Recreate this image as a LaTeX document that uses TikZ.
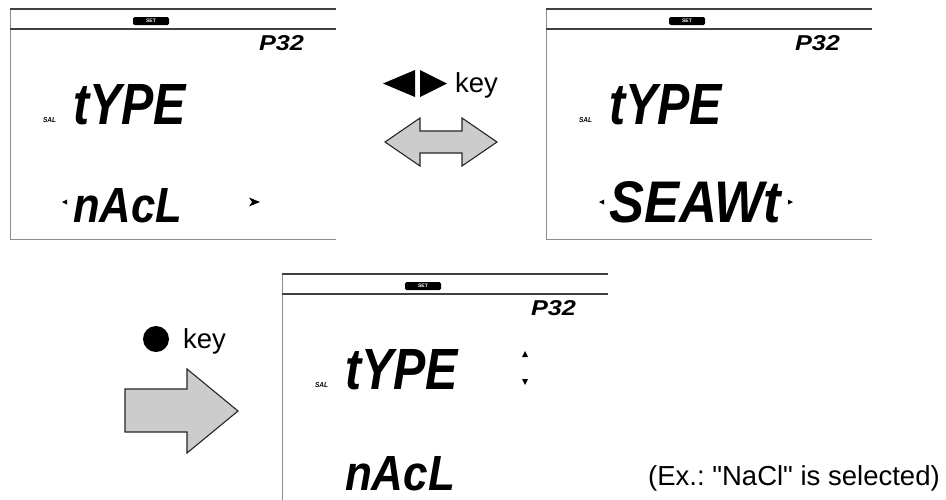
\documentclass[tikz,border=0pt]{standalone}
\usepackage{graphicx}
\usepackage{fontspec}
\setmainfont{Liberation Sans}
\newfontfamily\plainsans{Liberation Sans}
\frenchspacing
\newcommand{\lcdtxt}[3]{\resizebox{#1pt}{#2pt}{\bfseries\itshape #3}}
\tikzset{
  frameline/.style={draw=black!75, line width=1.1pt},
  frameedge/.style={draw=black!45, line width=1pt},
  framebar/.style={draw=black!75, line width=2.6pt},
  badge/.style={fill=black, rounded corners=1.5pt, minimum width=36pt, minimum height=8pt, inner sep=0pt, text=white, font=\fontsize{5}{5}\selectfont\bfseries},
  lcd/.style={inner sep=0pt, outer sep=0pt, text=black},
  bigarrow/.style={draw=black!85, fill=black!20, line width=1.1pt, line join=miter},
  label/.style={inner sep=0pt, font=\plainsans\fontsize{27.5}{30}\selectfont},
}
\newcommand{\lcdframe}[2]{%
  \draw[frameedge] (10,#2) -- (10,9);
  \draw[frameedge] (10,239) -- (336,239);
  \draw[frameline] (10,9) -- (336,9);
  \draw[framebar] (10,29) -- (336,29);
  \node[badge] (#1set) at (151,21) {SET};
  \node[lcd, anchor=north west] (#1p) at (259,35) {\lcdtxt{45}{15}{P32}};
  \node[lcd, anchor=south west] (#1sal) at (43,123) {\lcdtxt{13}{5}{SAL}};
  \node[lcd, anchor=south west] (#1type) at (73,125) {\lcdtxt{113}{40}{tYPE}};
}
\begin{document}
\begin{tikzpicture}[x=1pt,y=-1pt]
\useasboundingbox (0,0) rectangle (946,499);
\fill[white] (0,0) rectangle (946,499);

% panel 1
\begin{scope}
  \lcdframe{a}{239}
  \node[lcd, anchor=south west] (abot) at (73,223) {\lcdtxt{109}{34}{nAcL}};
  \fill (62,202) -- (67,199.5) -- (67,204.5) -- cycle;
  \fill (260,202) -- (249,197.5) -- (252,202) -- (249,206.5) -- cycle;
\end{scope}

% panel 2
\begin{scope}[xshift=536pt]
  \lcdframe{b}{239}
  \node[lcd, anchor=south west] (bbot) at (73,223) {\lcdtxt{172}{41}{SEAWt}};
  \fill (63,202) -- (68,199.5) -- (68,204.5) -- cycle;
  \fill (257,202) -- (252,199.5) -- (252,204.5) -- cycle;
\end{scope}

% panel 3
\begin{scope}[xshift=272pt, yshift=-265pt]
  \lcdframe{c}{239}
  \node[lcd, anchor=south west] (cbot) at (73,226) {\lcdtxt{110}{34}{nAcL}};
  \fill (253,86) -- (256,92) -- (250,92) -- cycle;
  \fill (253,120) -- (256,114) -- (250,114) -- cycle;
\end{scope}

% left/right key
\fill (383,83.5) -- (415,70) -- (415,97) -- cycle;
\fill (420,70) -- (447,83.5) -- (420,97) -- cycle;
\node[label, anchor=base west] (lrkey) at (455,92) {key};
\draw[bigarrow] (385,142) -- (420,118) -- (420,131) -- (462,131) -- (462,118)
  -- (497,142) -- (462,166) -- (462,153) -- (420,153) -- (420,166) -- cycle;

% enter key
\fill (156,339) circle (13);
\node[label, anchor=base west] (entkey) at (183,348) {key};
\draw[bigarrow] (125,389) -- (187,389) -- (187,369) -- (238,411) -- (187,453)
  -- (187,432) -- (125,432) -- cycle;

% note
\node[label, anchor=base west] (note) at (648,485) {(Ex.: "NaCl" is selected)};
\end{tikzpicture}
\end{document}
